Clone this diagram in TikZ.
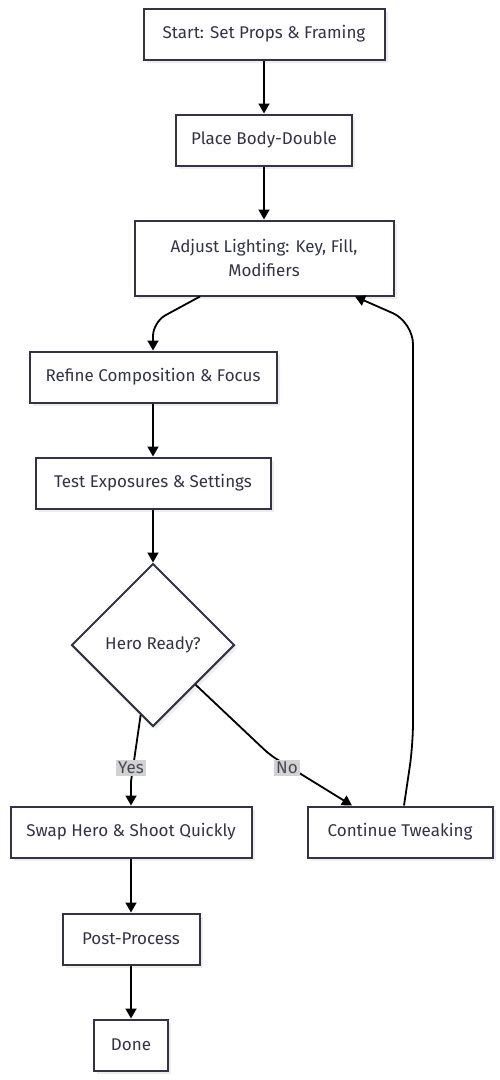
\documentclass[tikz,border=0pt]{standalone}
\usepackage{fontspec}
\setmainfont{Fira Sans}
\usetikzlibrary{arrows.meta, positioning, shapes.geometric, shadows}
\definecolor{ink}{RGB}{51,51,72}
\definecolor{lblgray}{RGB}{210,210,210}

\begin{document}
\begin{tikzpicture}[
            x=1pt, y=-1pt,
            box/.style = {draw=ink, line width=2pt, fill=white, text=ink,
                minimum height=51pt, inner sep=0pt, align=center,
                font=\fontsize{17}{24}\selectfont,
                drop shadow={shadow xshift=3pt, shadow yshift=-3pt, fill=black!7, opacity=1}},
            decision/.style = {box, diamond, minimum width=163pt, minimum height=163pt, aspect=1},
            lbl/.style = {fill=lblgray, text=ink!90, inner sep=2pt,
                font=\fontsize{17}{18}\selectfont},
            arr/.style = {draw=black, line width=1.8pt, -{Triangle[width=11pt,length=10pt]}},
            >=latex]
            \useasboundingbox (0,0) rectangle (500,1080);
            \def\mx{264}
            \def\lx{153}
            \def\bx{131}
            % boxes
            \node[box, minimum width=241pt] (start) at (\mx,34) {Start: Set Props \& Framing};
            \node[box, minimum width=176pt] (place) at (\mx,140) {Place Body-Double};
            \node[box, minimum width=259pt, minimum height=75pt] (adj) at (\mx,258)
                {Adjust Lighting: Key, Fill,\\Modifiers};
            \node[box, minimum width=247pt] (refine) at (\lx,377) {Refine Composition \& Focus};
            \node[box, minimum width=235pt] (test) at (\lx,483) {Test Exposures \& Settings};
            \node[decision] (hero) at (\lx,645) {Hero Ready?};
            \node[box, minimum width=241pt] (swap) at (\bx,832) {Swap Hero \& Shoot Quickly};
            \node[box, minimum width=185pt] (cont) at (400,832) {Continue Tweaking};
            \node[box, minimum width=137pt] (post) at (\bx,939) {Post-Process};
            \node[box, minimum width=74pt] (done) at (\bx,1045) {Done};
            % connectors
            \draw[arr] (start) -- (place);
            \draw[arr] (place) -- (adj);
            \draw[arr, rounded corners=14pt] ([xshift=-64pt]adj.south) -- (\lx,322) -- (refine.north);
            \draw[arr] (refine) -- (test);
            \draw[arr] (test) -- (hero);
            \draw[arr] (hero.260) -- ([yshift=24pt]swap.north) -- (swap.north);
            \draw[arr, rounded corners=8pt] (hero.-43) -- (270,755) -- ([xshift=-48pt]cont.north);
            \draw[arr, rounded corners=22pt] ([xshift=4pt]cont.north) -- (413,745)
                -- (413,322) -- ([xshift=91pt]adj.south);
            \draw[arr] (swap) -- (post);
            \draw[arr] (post) -- (done);
            % branch labels
            \node[lbl] (yes) at (\bx,768) {Yes};
            \node[lbl] (no) at (287,768) {No};
        \end{tikzpicture}
\end{document}
